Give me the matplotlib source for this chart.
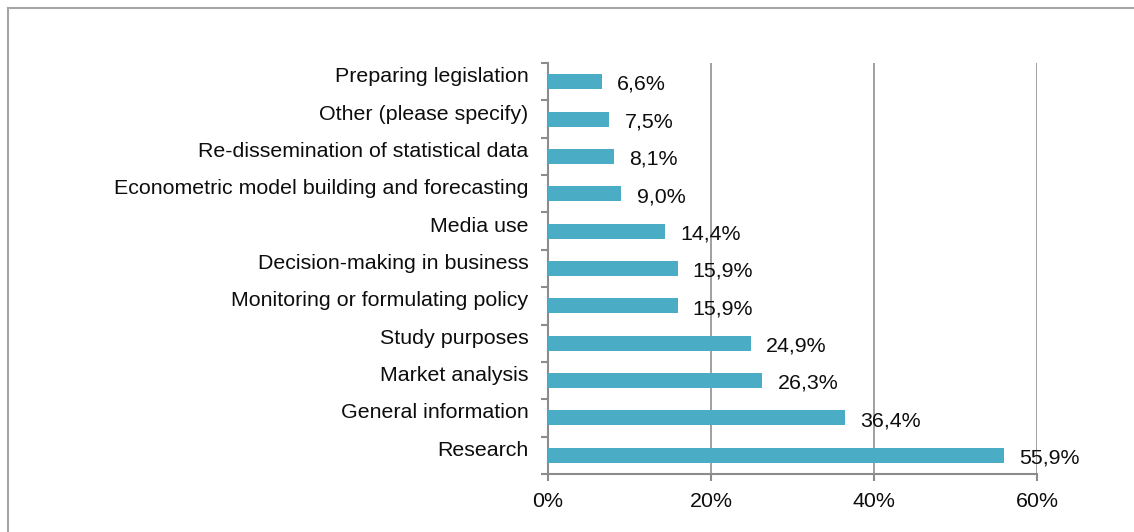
import matplotlib
matplotlib.use("Agg")
import matplotlib.pyplot as plt
from matplotlib.lines import Line2D
import matplotlib.transforms as mtransforms

plt.rcParams['font.family'] = ['Liberation Sans', 'DejaVu Sans']

categories = ["Research", "General information", "Market analysis", "Study purposes",
              "Monitoring or formulating policy", "Decision-making in business", "Media use",
              "Econometric model building and forecasting", "Re-dissemination of statistical data",
              "Other (please specify)", "Preparing legislation"]
values = [55.9, 36.4, 26.3, 24.9, 15.9, 15.9, 14.4, 9.0, 8.1, 7.5, 6.6]
xticks = [0, 20, 40, 60]
xtick_labels = ["0%", "20%", "40%", "60%"]

W, H = 1134, 532
FS = 15.4
TXT = "#0d0d0d"
fig = plt.figure(figsize=(W / 100, H / 100), dpi=100)
ax = fig.add_axes([548 / W, 1 - 474 / H, (1037 - 548) / W, (474 - 63) / H])

y = list(range(len(categories)))
ax.barh(y, values, height=0.4, color="#4BACC6", zorder=3)
ax.set_xlim(0, 60)
ax.set_ylim(-0.5, len(categories) - 0.5)

for yi, v in zip(y, values):
    ax.annotate(f"{v:.1f}%".replace(".", ","), (v, yi), xytext=(11, -2),
                textcoords="offset points", va="center", ha="left", fontsize=FS,
                color=TXT, zorder=4)

ax.set_xticks(xticks)
ax.set_xticklabels(xtick_labels, fontsize=FS, color=TXT)
ax.set_yticks([i - 0.5 for i in range(len(categories) + 1)], minor=False)
ax.set_yticklabels([""] * (len(categories) + 1))
ax.set_yticks(y, minor=True)
ax.set_yticklabels(categories, minor=True, fontsize=FS, color=TXT)
ax.tick_params(axis="y", which="minor", length=0, pad=14)
ax.tick_params(axis="y", which="major", length=5, width=1.5, color="#8c8c8c")
ax.tick_params(axis="x", length=5, width=1.5, color="#8c8c8c", pad=8)

offset = mtransforms.ScaledTranslation(0, 5 / 100, fig.dpi_scale_trans)
for lbl in ax.get_yticklabels(minor=True):
    lbl.set_verticalalignment("center")
    lbl.set_transform(lbl.get_transform() + offset)

ax.grid(axis="x", color="#999999", linewidth=1.3, zorder=0)
for s in ["top", "right"]:
    ax.spines[s].set_visible(False)
for s in ["left", "bottom"]:
    ax.spines[s].set_color("#8c8c8c")
    ax.spines[s].set_linewidth(1.5)

# outer chart border
fig.add_artist(Line2D([8 / W, 8 / W], [0, 1 - 8 / H], transform=fig.transFigure,
                      color="#a6a6a6", linewidth=1.5))
fig.add_artist(Line2D([8 / W, 1], [1 - 8 / H, 1 - 8 / H], transform=fig.transFigure,
                      color="#a6a6a6", linewidth=1.5))

fig.savefig("out.png", dpi=100, facecolor="white")
